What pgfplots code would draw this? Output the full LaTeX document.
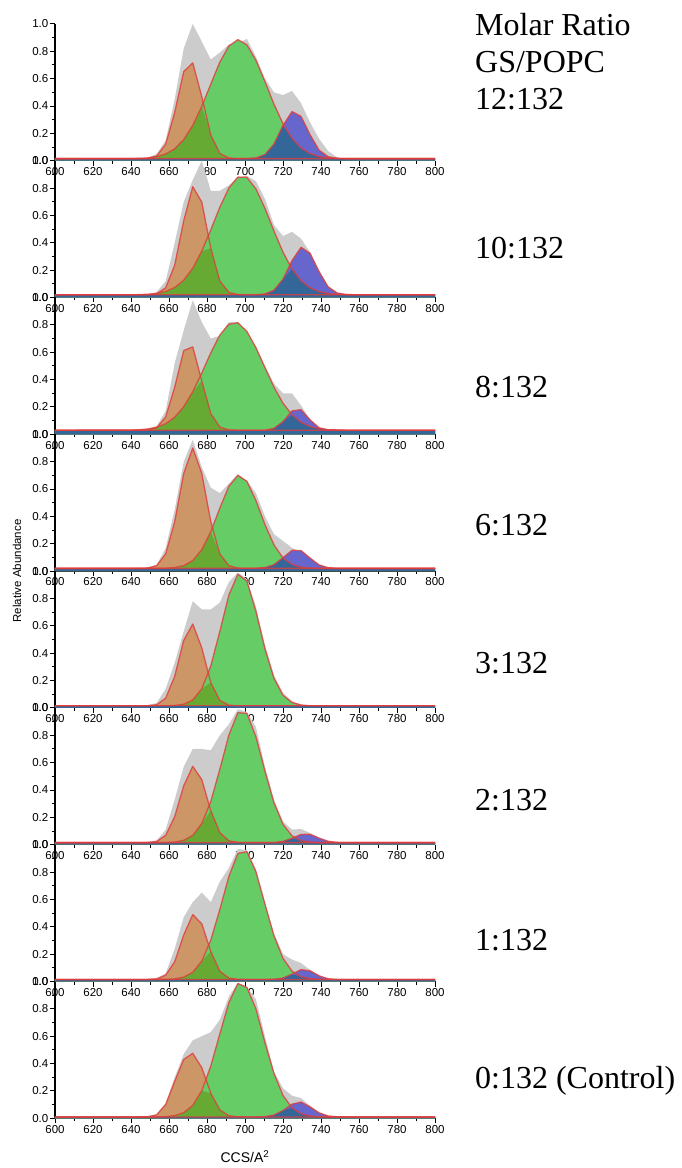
\documentclass[border=0pt]{standalone}
\usepackage{pgfplots}
\pgfplotsset{compat=1.18}
\usepackage{pgfplotstable}
\usepackage{fontspec}
\setmainfont{Liberation Serif}
\newfontfamily\arial{Liberation Sans}
\definecolor{cgrey}{RGB}{204,204,204}
\definecolor{corange}{RGB}{204,150,102}
\definecolor{cgreen}{RGB}{102,204,102}
\definecolor{cblue}{RGB}{102,102,204}
\definecolor{colive}{RGB}{102,170,51}
\definecolor{cnavy}{RGB}{51,102,153}
\definecolor{cred}{RGB}{225,60,60}

% columns: x, grey total, orange, green, blue, orange/green overlap, green/blue overlap
\pgfplotstableread{
x g o gr b og gb
600 0.005 0.015 0.015 0.015 0.015 0.015
639.25 0.01 0.015 0.016 0.015 0.015 0.015
644 0.012 0.015 0.017 0.015 0.015 0.015
648.75 0.02 0.017 0.02 0.015 0.017 0.015
653.5 0.05 0.034 0.029 0.015 0.029 0.015
658.25 0.15 0.12 0.049 0.015 0.049 0.015
663 0.45 0.353 0.087 0.015 0.087 0.015
667.75 0.82 0.651 0.154 0.015 0.154 0.015
672.5 1.0 0.715 0.257 0.015 0.257 0.015
677.25 0.87 0.469 0.397 0.015 0.397 0.015
682 0.74 0.187 0.56 0.015 0.187 0.015
686.75 0.79 0.053 0.72 0.015 0.053 0.015
691.5 0.85 0.02 0.838 0.015 0.02 0.015
696.25 0.86 0.015 0.885 0.015 0.015 0.015
701 0.89 0.015 0.847 0.016 0.015 0.016
705.75 0.76 0.015 0.734 0.02 0.015 0.02
710.5 0.6 0.015 0.578 0.045 0.015 0.045
715.25 0.5 0.015 0.413 0.122 0.015 0.122
720 0.48 0.015 0.27 0.258 0.015 0.258
724.75 0.51 0.015 0.163 0.359 0.015 0.163
729.5 0.42 0.015 0.092 0.324 0.015 0.092
734.25 0.28 0.015 0.052 0.19 0.015 0.052
739 0.16 0.015 0.031 0.077 0.015 0.031
743.75 0.07 0.015 0.021 0.029 0.015 0.021
748.5 0.025 0.015 0.017 0.017 0.015 0.017
753.25 0.01 0.015 0.015 0.015 0.015 0.015
758 0.005 0.015 0.015 0.015 0.015 0.015
800 0.005 0.015 0.015 0.015 0.015 0.015
}\tabA

\pgfplotstableread{
x g o gr b og gb
600 0.01 0.02 0.02 0.02 0.02 0.02
639.25 0.012 0.02 0.02 0.02 0.02 0.02
644 0.015 0.02 0.021 0.02 0.02 0.02
648.75 0.02 0.02 0.024 0.02 0.02 0.02
653.5 0.04 0.027 0.03 0.02 0.027 0.02
658.25 0.12 0.071 0.044 0.02 0.044 0.02
663 0.40 0.237 0.073 0.02 0.073 0.02
667.75 0.70 0.561 0.126 0.02 0.126 0.02
672.5 0.86 0.81 0.214 0.02 0.214 0.02
677.25 1.0 0.697 0.339 0.02 0.339 0.02
682 0.78 0.36 0.495 0.02 0.36 0.02
686.75 0.78 0.12 0.66 0.02 0.12 0.02
691.5 0.82 0.037 0.80 0.02 0.037 0.02
696.25 0.88 0.022 0.88 0.02 0.022 0.02
701 0.89 0.02 0.878 0.02 0.02 0.02
705.75 0.85 0.02 0.794 0.021 0.02 0.021
710.5 0.72 0.02 0.652 0.026 0.02 0.026
715.25 0.53 0.02 0.486 0.053 0.02 0.053
720 0.45 0.02 0.331 0.134 0.02 0.134
724.75 0.48 0.02 0.208 0.27 0.02 0.208
729.5 0.43 0.02 0.123 0.367 0.02 0.123
734.25 0.33 0.02 0.071 0.323 0.02 0.071
739 0.2 0.02 0.043 0.187 0.02 0.043
743.75 0.08 0.02 0.029 0.078 0.02 0.029
748.5 0.035 0.02 0.023 0.033 0.02 0.023
753.25 0.015 0.02 0.021 0.022 0.02 0.021
758 0.01 0.02 0.02 0.02 0.02 0.02
800 0.01 0.02 0.02 0.02 0.02 0.02
}\tabB

\pgfplotstableread{
x g o gr b og gb
600 0.01 0.03 0.03 0.03 0.03 0.03
639.25 0.015 0.03 0.031 0.03 0.03 0.03
644 0.02 0.03 0.033 0.03 0.03 0.03
648.75 0.025 0.032 0.039 0.03 0.032 0.03
653.5 0.06 0.047 0.052 0.03 0.047 0.03
658.25 0.17 0.127 0.077 0.03 0.077 0.03
663 0.52 0.345 0.125 0.03 0.125 0.03
667.75 0.76 0.612 0.201 0.03 0.201 0.03
672.5 0.98 0.639 0.311 0.03 0.311 0.03
677.25 0.82 0.39 0.448 0.03 0.39 0.03
682 0.70 0.151 0.596 0.03 0.151 0.03
686.75 0.72 0.053 0.725 0.03 0.053 0.03
691.5 0.82 0.032 0.805 0.03 0.032 0.03
696.25 0.82 0.03 0.815 0.03 0.03 0.03
701 0.74 0.03 0.752 0.03 0.03 0.03
705.75 0.64 0.03 0.633 0.03 0.03 0.03
710.5 0.50 0.03 0.487 0.03 0.03 0.03
715.25 0.37 0.03 0.345 0.043 0.03 0.043
720 0.30 0.03 0.227 0.093 0.03 0.093
724.75 0.30 0.03 0.142 0.171 0.03 0.142
729.5 0.21 0.03 0.088 0.18 0.03 0.088
734.25 0.11 0.03 0.057 0.105 0.03 0.057
739 0.045 0.03 0.041 0.048 0.03 0.041
743.75 0.02 0.03 0.034 0.032 0.03 0.032
748.5 0.015 0.03 0.032 0.03 0.03 0.03
753.25 0.012 0.03 0.03 0.03 0.03 0.03
758 0.01 0.03 0.03 0.03 0.03 0.03
800 0.01 0.03 0.03 0.03 0.03 0.03
}\tabC

\pgfplotstableread{
x g o gr b og gb
600 0.01 0.02 0.02 0.02 0.02 0.02
639.25 0.02 0.02 0.02 0.02 0.02 0.02
644 0.02 0.02 0.02 0.02 0.02 0.02
648.75 0.025 0.022 0.02 0.02 0.02 0.02
653.5 0.045 0.04 0.02 0.02 0.02 0.02
658.25 0.17 0.125 0.021 0.02 0.021 0.02
663 0.45 0.361 0.026 0.02 0.026 0.02
667.75 0.80 0.714 0.04 0.02 0.04 0.02
672.5 0.96 0.90 0.077 0.02 0.077 0.02
677.25 0.76 0.714 0.156 0.02 0.156 0.02
682 0.61 0.361 0.288 0.02 0.288 0.02
686.75 0.57 0.125 0.46 0.02 0.125 0.02
691.5 0.64 0.04 0.62 0.02 0.04 0.02
696.25 0.71 0.022 0.699 0.02 0.022 0.02
701 0.66 0.02 0.656 0.02 0.02 0.02
705.75 0.57 0.02 0.516 0.021 0.02 0.021
710.5 0.40 0.02 0.34 0.026 0.02 0.026
715.25 0.27 0.02 0.192 0.047 0.02 0.047
720 0.22 0.02 0.096 0.098 0.02 0.096
724.75 0.17 0.02 0.048 0.152 0.02 0.048
729.5 0.14 0.02 0.029 0.15 0.02 0.029
734.25 0.10 0.02 0.022 0.095 0.02 0.022
739 0.045 0.02 0.02 0.045 0.02 0.02
743.75 0.025 0.02 0.02 0.025 0.02 0.02
748.5 0.015 0.02 0.02 0.02 0.02 0.02
753.25 0.01 0.02 0.02 0.02 0.02 0.02
758 0.008 0.02 0.02 0.02 0.02 0.02
800 0.008 0.02 0.02 0.02 0.02 0.02
}\tabD

\pgfplotstableread{
x g o gr b og gb
600 0.005 0.015 0.015 0.015 0.015 0.015
639.25 0.012 0.015 0.015 0.015 0.015 0.015
644 0.015 0.015 0.015 0.015 0.015 0.015
648.75 0.02 0.016 0.015 0.015 0.015 0.015
653.5 0.035 0.023 0.015 0.015 0.015 0.015
658.25 0.14 0.071 0.015 0.015 0.015 0.015
663 0.33 0.231 0.018 0.015 0.018 0.015
667.75 0.56 0.493 0.027 0.015 0.027 0.015
672.5 0.78 0.613 0.058 0.015 0.058 0.015
677.25 0.72 0.439 0.14 0.015 0.14 0.015
682 0.72 0.185 0.307 0.015 0.185 0.015
686.75 0.77 0.054 0.559 0.015 0.054 0.015
691.5 0.92 0.02 0.825 0.015 0.02 0.015
696.25 0.99 0.015 0.977 0.015 0.015 0.015
701 0.94 0.015 0.927 0.015 0.015 0.015
705.75 0.74 0.015 0.705 0.015 0.015 0.015
710.5 0.46 0.015 0.432 0.015 0.015 0.015
715.25 0.24 0.015 0.216 0.015 0.015 0.015
720 0.11 0.015 0.092 0.015 0.015 0.015
724.75 0.05 0.015 0.039 0.015 0.015 0.015
729.5 0.025 0.015 0.021 0.015 0.015 0.015
734.25 0.016 0.015 0.016 0.015 0.015 0.015
739 0.012 0.015 0.015 0.015 0.015 0.015
743.75 0.01 0.015 0.015 0.015 0.015 0.015
748.5 0.008 0.015 0.015 0.015 0.015 0.015
753.25 0.006 0.015 0.015 0.015 0.015 0.015
758 0.005 0.015 0.015 0.015 0.015 0.015
800 0.005 0.015 0.015 0.015 0.015 0.015
}\tabE

\pgfplotstableread{
x g o gr b og gb
600 0.008 0.015 0.015 0.015 0.015 0.015
639.25 0.012 0.015 0.015 0.015 0.015 0.015
644 0.015 0.015 0.015 0.015 0.015 0.015
648.75 0.02 0.016 0.015 0.015 0.015 0.015
653.5 0.03 0.024 0.015 0.015 0.015 0.015
658.25 0.11 0.068 0.016 0.015 0.016 0.015
663 0.33 0.205 0.019 0.015 0.019 0.015
667.75 0.57 0.431 0.032 0.015 0.032 0.015
672.5 0.70 0.573 0.068 0.015 0.068 0.015
677.25 0.70 0.476 0.155 0.015 0.155 0.015
682 0.69 0.248 0.316 0.015 0.248 0.015
686.75 0.80 0.088 0.551 0.015 0.088 0.015
691.5 0.88 0.029 0.801 0.015 0.029 0.015
696.25 0.99 0.017 0.965 0.015 0.017 0.015
701 0.97 0.015 0.96 0.015 0.015 0.015
705.75 0.86 0.015 0.789 0.015 0.015 0.015
710.5 0.57 0.015 0.538 0.015 0.015 0.015
715.25 0.33 0.015 0.306 0.016 0.015 0.016
720 0.17 0.015 0.149 0.024 0.015 0.024
724.75 0.11 0.015 0.065 0.046 0.015 0.046
729.5 0.115 0.015 0.031 0.075 0.015 0.031
734.25 0.085 0.015 0.019 0.076 0.015 0.019
739 0.05 0.015 0.015 0.048 0.015 0.015
743.75 0.025 0.015 0.015 0.025 0.015 0.015
748.5 0.012 0.015 0.015 0.017 0.015 0.015
753.25 0.01 0.015 0.015 0.015 0.015 0.015
758 0.008 0.015 0.015 0.015 0.015 0.015
800 0.008 0.015 0.015 0.015 0.015 0.015
}\tabF

\pgfplotstableread{
x g o gr b og gb
600 0.005 0.015 0.015 0.015 0.015 0.015
639.25 0.012 0.015 0.015 0.015 0.015 0.015
644 0.015 0.015 0.015 0.015 0.015 0.015
648.75 0.02 0.015 0.015 0.015 0.015 0.015
653.5 0.025 0.019 0.015 0.015 0.015 0.015
658.25 0.06 0.046 0.016 0.015 0.016 0.015
663 0.24 0.145 0.019 0.015 0.019 0.015
667.75 0.47 0.34 0.032 0.015 0.032 0.015
672.5 0.58 0.489 0.067 0.015 0.067 0.015
677.25 0.65 0.422 0.149 0.015 0.149 0.015
682 0.58 0.219 0.303 0.015 0.219 0.015
686.75 0.73 0.075 0.526 0.015 0.075 0.015
691.5 0.83 0.025 0.768 0.015 0.025 0.015
696.25 0.97 0.016 0.936 0.015 0.016 0.015
701 0.96 0.015 0.949 0.015 0.015 0.015
705.75 0.82 0.015 0.802 0.015 0.015 0.015
710.5 0.58 0.015 0.565 0.015 0.015 0.015
715.25 0.35 0.015 0.334 0.016 0.015 0.016
720 0.20 0.015 0.169 0.025 0.015 0.025
724.75 0.16 0.015 0.076 0.054 0.015 0.054
729.5 0.135 0.015 0.035 0.087 0.015 0.035
734.25 0.085 0.015 0.021 0.078 0.015 0.021
739 0.045 0.015 0.016 0.041 0.015 0.016
743.75 0.015 0.015 0.015 0.02 0.015 0.015
748.5 0.008 0.015 0.015 0.015 0.015 0.015
753.25 0.006 0.015 0.015 0.015 0.015 0.015
758 0.005 0.015 0.015 0.015 0.015 0.015
800 0.005 0.015 0.015 0.015 0.015 0.015
}\tabG

\pgfplotstableread{
x g o gr b og gb
600 0.006 0.01 0.01 0.01 0.01 0.01
639.25 0.01 0.01 0.01 0.01 0.01 0.01
644 0.012 0.01 0.01 0.01 0.01 0.01
648.75 0.015 0.011 0.01 0.01 0.01 0.01
653.5 0.03 0.025 0.01 0.01 0.01 0.01
658.25 0.11 0.10 0.012 0.01 0.012 0.01
663 0.30 0.27 0.02 0.01 0.02 0.01
667.75 0.47 0.43 0.041 0.01 0.041 0.01
672.5 0.57 0.475 0.094 0.01 0.094 0.01
677.25 0.60 0.37 0.202 0.01 0.202 0.01
682 0.63 0.183 0.382 0.01 0.183 0.01
686.75 0.72 0.061 0.617 0.01 0.061 0.01
691.5 0.89 0.019 0.845 0.01 0.019 0.01
696.25 0.99 0.011 0.985 0.01 0.011 0.01
701 0.96 0.01 0.957 0.01 0.01 0.01
705.75 0.87 0.01 0.80 0.01 0.01 0.01
710.5 0.60 0.01 0.553 0.012 0.01 0.012
715.25 0.34 0.01 0.328 0.024 0.01 0.024
720 0.22 0.01 0.167 0.057 0.01 0.057
724.75 0.165 0.01 0.076 0.103 0.01 0.076
729.5 0.148 0.01 0.033 0.119 0.01 0.033
734.25 0.09 0.01 0.017 0.084 0.01 0.017
739 0.04 0.01 0.012 0.04 0.01 0.012
743.75 0.017 0.01 0.01 0.017 0.01 0.01
748.5 0.01 0.01 0.01 0.011 0.01 0.01
753.25 0.008 0.01 0.01 0.01 0.01 0.01
758 0.006 0.01 0.01 0.01 0.01 0.01
800 0.006 0.01 0.01 0.01 0.01 0.01
}\tabH

\pgfplotsset{
  panel/.style={
    width=380pt, height=136.8pt, scale only axis,
    anchor=south west,
    xmin=600, xmax=800, ymin=0, ymax=1,
    axis x line*=bottom, axis y line*=left,
    axis line style={-, black, line width=1.1pt},
    xtick={600,620,640,660,680,700,720,740,760,780,800},
    ytick={0,0.2,0.4,0.6,0.8,1},
    minor x tick num=1, minor y tick num=1,
    tick align=outside,
    major tick length=5pt, minor tick length=3pt,
    tick style={black, line width=0.9pt},
    ticklabel style={font=\arial\fontsize{11.5}{13}\selectfont, inner sep=1.5pt},
    /pgf/number format/assume math mode=true,
    yticklabel style={/pgf/number format/fixed, /pgf/number format/fixed zerofill, /pgf/number format/precision=1},
    xticklabel style={/pgf/number format/fixed, /pgf/number format/precision=0},
    clip=false,
  },
  redline/.style={draw=cred, line width=1.3pt, draw opacity=0.8, line join=round},
}

\newcommand{\panel}[2]{%
\begin{axis}[panel, at={(0pt,#2)}]
\addplot[fill=cgrey, draw=none] table[x=x,y=g]{#1} \closedcycle;
\addplot[fill=corange, draw=none] table[x=x,y=o]{#1} \closedcycle;
\addplot[fill=cgreen, draw=none] table[x=x,y=gr]{#1} \closedcycle;
\addplot[fill=cblue, draw=none] table[x=x,y=b]{#1} \closedcycle;
\addplot[fill=colive, draw=none] table[x=x,y=og]{#1} \closedcycle;
\addplot[fill=cnavy, draw=none] table[x=x,y=gb]{#1} \closedcycle;
\addplot[redline] table[x=x,y=o]{#1};
\addplot[redline] table[x=x,y=gr]{#1};
\addplot[redline] table[x=x,y=b]{#1};
\end{axis}}

\begin{document}
\begin{tikzpicture}
\useasboundingbox (-55pt,-49.7pt) rectangle (626pt,1118.3pt);
\panel{\tabA}{957.6pt}
\panel{\tabB}{820.8pt}
\panel{\tabC}{684pt}
\panel{\tabD}{547.2pt}
\panel{\tabE}{410.4pt}
\panel{\tabF}{273.6pt}
\panel{\tabG}{136.8pt}
\panel{\tabH}{0pt}
\node[rotate=90, font=\arial\fontsize{11.5}{13}\selectfont] at (-38pt,547.3pt) {Relative Abundance};
\node[font=\arial\fontsize{14}{16}\selectfont] at (190pt,-38.7pt) {CCS/A\textsuperscript{2}};
\begin{scope}[every node/.style={anchor=base west, inner sep=0pt, font=\fontsize{32}{36}\selectfont}]
\node at (420pt,1082.3pt) {Molar Ratio};
\node at (420pt,1045.3pt) {GS/POPC};
\node at (420pt,1008.3pt) {12:132};
\node at (420pt,859.3pt) {10:132};
\node at (420pt,720.3pt) {8:132};
\node at (420pt,582.3pt) {6:132};
\node at (420pt,444.3pt) {3:132};
\node at (420pt,307.3pt) {2:132};
\node at (420pt,167.3pt) {1:132};
\node at (420pt,30.3pt) {0:132 (Control)};
\end{scope}
\end{tikzpicture}
\end{document}
